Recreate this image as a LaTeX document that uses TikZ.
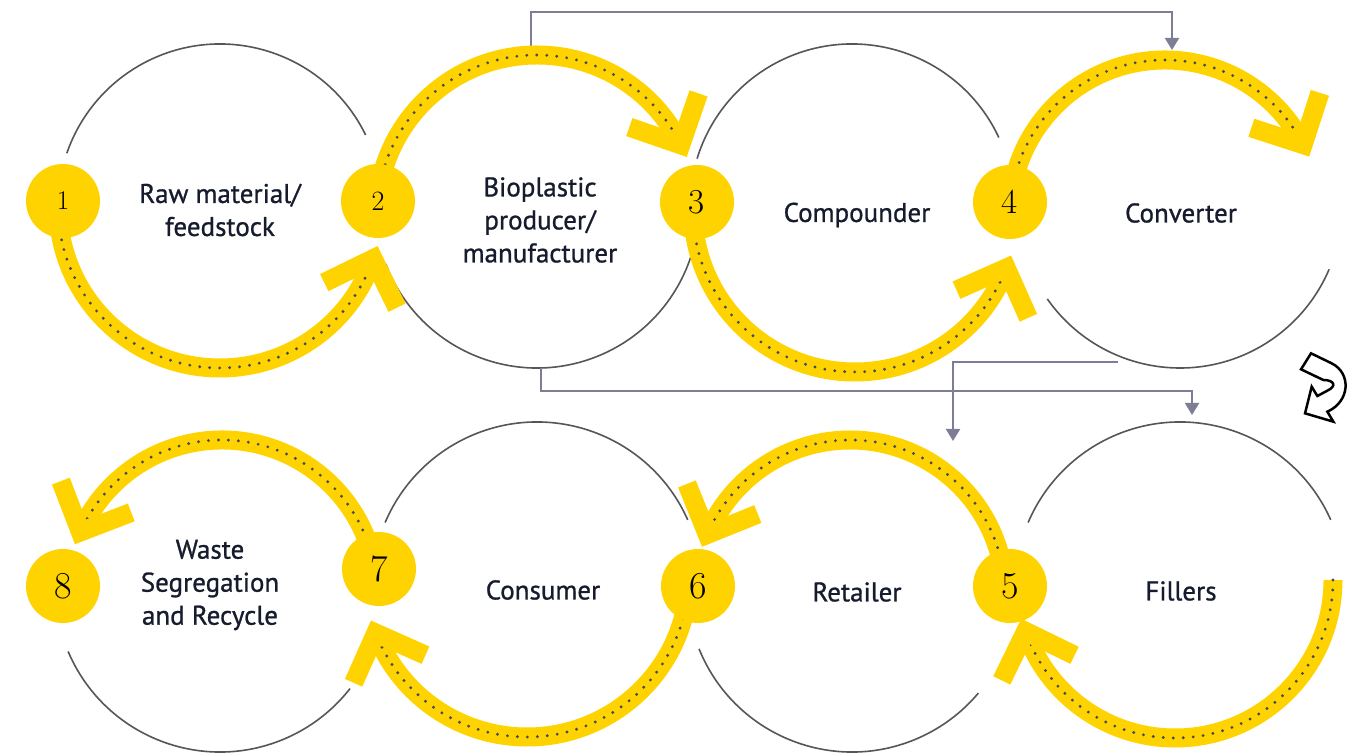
\documentclass[tikz,border=0pt]{standalone}
\usepackage{fontspec}
\newfontfamily\labelfont{PT Sans}[FakeBold=0.9]
\usepackage{tikz}
\usetikzlibrary{calc,positioning,arrows.meta}
\definecolor{eyyellow}{RGB}{255,211,0}
\definecolor{dotgrey}{RGB}{70,72,92}
\definecolor{ringgrey}{RGB}{85,85,90}
\definecolor{linkgrey}{RGB}{125,125,150}
\definecolor{navy}{RGB}{22,28,45}
\tikzset{chev/.pic={\draw[eyyellow,line width=19pt,line join=miter] (-38.5,38.5) -- (0,0) -- (-38.5,-38.5);}}

\begin{document}
\begin{tikzpicture}[x=1pt,y=1pt]
\tikzstyle{ring}=[draw=ringgrey,line width=1.6pt]
\tikzstyle{yarc}=[draw=eyyellow,line width=19pt,postaction={draw=dotgrey,line width=3.2pt,dash pattern=on 0pt off 10pt,line cap=round}]
\tikzstyle{badge}=[circle,fill=eyyellow,minimum size=74pt,inner sep=0pt,font=\fontsize{38}{38}\selectfont]
\tikzstyle{lbl}=[align=center,text=navy,font=\labelfont\fontsize{27}{33}\selectfont]
\tikzstyle{link}=[draw=linkgrey,line width=2pt,-{Triangle[width=14pt,length=12pt]}]
\useasboundingbox (0,0) rectangle (1364,755);

% ring centres
\coordinate (c1) at (220,549);
\coordinate (c2) at (537,549);
\coordinate (c3) at (852,549);
\coordinate (c4) at (1180,549);
\coordinate (c5) at (1180,168);
\coordinate (c6) at (852,168);
\coordinate (c7) at (537,168);
\coordinate (c8) at (220,168);

\draw[ring] ($(c1)+(26:162pt)$) arc[start angle=26,end angle=161,radius=162pt];
\draw[ring] ($(c2)+(201:162pt)$) arc[start angle=201,end angle=343,radius=162pt];
\draw[ring] ($(c3)+(25:162pt)$) arc[start angle=25,end angle=163,radius=162pt];
\draw[ring] ($(c4)+(215:162pt)$) arc[start angle=215,end angle=337,radius=162pt];
\draw[ring] ($(c8)+(203:165pt)$) arc[start angle=203,end angle=322,radius=165pt];
\draw[ring] ($(c7)+(24:165pt)$) arc[start angle=24,end angle=157,radius=165pt];
\draw[ring] ($(c6)+(202:165pt)$) arc[start angle=202,end angle=320,radius=165pt];
\draw[ring] ($(c5)+(24:165pt)$) arc[start angle=24,end angle=157,radius=165pt];

% grey links
\coordinate (l1s) at (531,700);
\coordinate (l1e) at (1172,705);
\coordinate (l2s) at (541,387);
\coordinate (l2e) at (1192,340);
\coordinate (l3s) at (1118,393);
\coordinate (l3e) at (953,314);
\draw[link] (l1s) -- ++(0,43) -| (l1e);
\draw[link] (l2s) |- ($(l2e)+(0,24)$) -- (l2e);
\draw[link] (l3s) -| (l3e);

% yellow arcs
\coordinate (yA) at (220,549);
\coordinate (yB) at (537,540);
\coordinate (yC) at (855,545);
\coordinate (yD) at (1165,540);
\coordinate (yE) at (850,160);
\coordinate (yF) at (527,180);
\coordinate (yG) at (222,160);
\coordinate (yH) at (1175,175);

\draw[yarc] ($(yA)+(185:162pt)$) arc[start angle=185,end angle=341,radius=162pt];
\draw[yarc] ($(yB)+(176:160pt)$) arc[start angle=176,end angle=26,radius=160pt];
\draw[yarc] ($(yC)+(185:162pt)$) arc[start angle=185,end angle=339,radius=162pt];
\draw[yarc] ($(yD)+(175:155pt)$) arc[start angle=175,end angle=27,radius=155pt];
\draw[yarc] ($(yE)+(3:155pt)$) arc[start angle=3,end angle=157,radius=155pt];
\draw[yarc] ($(yF)+(-5:162pt)$) arc[start angle=-5,end angle=-159,radius=162pt];
\draw[yarc] ($(yG)+(10:155pt)$) arc[start angle=10,end angle=156,radius=155pt];
\draw[yarc] ($(yH)+(0:158pt)$) arc[start angle=0,end angle=-161,radius=158pt];

\pic[rotate=71] at ($(yA)+(341:162pt)$) {chev};
\pic[rotate=-64] at ($(yB)+(26:160pt)$) {chev};
\pic[rotate=69] at ($(yC)+(339:162pt)$) {chev};
\pic[rotate=-63] at ($(yD)+(27:155pt)$) {chev};
\pic[rotate=247] at ($(yE)+(157:155pt)$) {chev};
\pic[rotate=111] at ($(yF)+(-159:162pt)$) {chev};
\pic[rotate=246] at ($(yG)+(156:155pt)$) {chev};
\pic[rotate=109] at ($(yH)+(-161:158pt)$) {chev};

% badges
\node[badge,font=\fontsize{27}{27}\selectfont] (b1) at (63,554) {1};
\node[badge,font=\fontsize{28}{28}\selectfont] (b2) at (378,554) {2};
\node[badge,font=\fontsize{35}{35}\selectfont] (b3) at (697,553) {3};
\node[badge,font=\fontsize{35}{35}\selectfont] (b4) at (1010,553) {4};
\node[badge] (b5) at (1010,169) {5};
\node[badge] (b6) at (698,169) {6};
\node[badge] (b7) at (379,186) {7};
\node[badge] (b8) at (63,169) {8};

% labels
\node[lbl] (t1) at (220,545) {Raw material/\\feedstock};
\node[lbl] (t2) at (540,535) {Bioplastic\\producer/\\manufacturer};
\node[lbl] (t3) at (857,540) {Compounder};
\node[lbl] (t4) at (1181,542) {Converter};
\node[lbl] (t5) at (1181,164) {Fillers};
\node[lbl] (t6) at (857,163) {Retailer};
\node[lbl] (t7) at (543,165) {Consumer};
\node[lbl] (t8) at (210,170) {Waste\\Segregation\\and Recycle};

% turn icon
\begin{scope}[shift={(1240,425)},xscale=1/3,yscale=-1/3]
\draw[line width=2.5pt,line join=miter,fill=white] (213,70) -- (275,100) .. controls (335,130) and (330,215) .. (262,245) -- (280,275) -- (195,250) -- (215,170) -- (232,198) -- (262,182) .. controls (292,168) and (282,150) .. (250,150) -- (183,118) -- cycle;
\end{scope}
\end{tikzpicture}
\end{document}
